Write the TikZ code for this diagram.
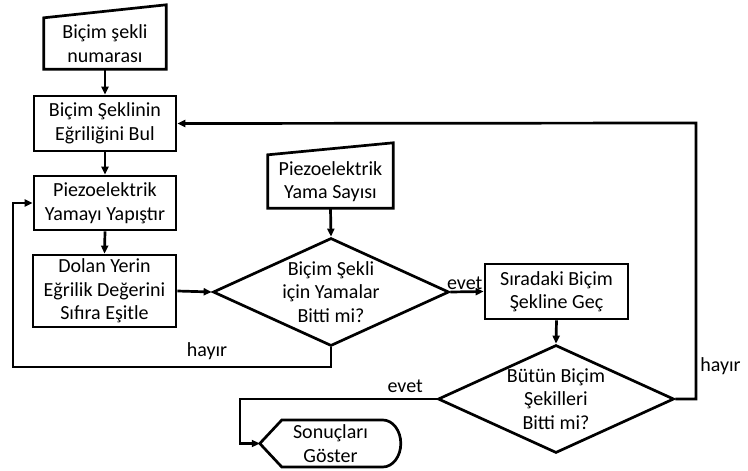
\documentclass[tikz,border=0pt]{standalone}
\usepackage{fontspec}
\setmainfont{Carlito}
\usetikzlibrary{arrows.meta,shapes.geometric,calc}
\begin{document}
\begin{tikzpicture}[x=1pt,y=-1pt,
  every node/.style={font=\fontsize{20}{23.5}\selectfont, align=center},
  ln/.style={line width=2.7pt, line join=miter},
  arr/.style={ln, -{Triangle[length=8pt,width=7pt]}},
  box/.style={ln, draw, rectangle, inner sep=0pt},
  frame/.style={rectangle, inner sep=0pt},
  dec/.style={ln, draw, diamond, inner sep=0pt, minimum width=236pt, minimum height=108pt},
  lbl/.style={font=\fontsize{20}{23}\selectfont, inner sep=1pt}
]
\useasboundingbox (0,0) rectangle (748,471);

% manual inputs
\node[frame, minimum width=122pt, minimum height=51pt] (in1) at (105,43.5) {Biçim şekli\\numarası};
\draw[ln] (in1.south west) -- (in1.north west) -- ([yshift=13pt]in1.north east) -- (in1.south east) -- cycle;
\node[frame, minimum width=125pt, minimum height=53pt] (in2) at (330.5,181.5) {Piezoelektrik\\Yama Sayısı};
\draw[ln] (in2.south west) -- (in2.north west) -- ([yshift=12pt]in2.north east) -- (in2.south east) -- cycle;

% process boxes
\node[box, minimum width=142pt, minimum height=55pt] (b2) at (105,123.5) {Biçim Şeklinin\\Eğriliğini Bul};
\node[box, minimum width=142pt, minimum height=54pt] (b3) at (105,203) {Piezoelektrik\\Yamayı Yapıştır};
\node[box, minimum width=143pt, minimum height=72pt] (b4) at (104.5,291) {Dolan Yerin\\Eğrilik Değerini\\Sıfıra Eşitle};
\node[box, minimum width=143pt, minimum height=55pt] (b7) at (556.5,291.5) {Sıradaki Biçim\\Şekline Geç};

% decisions
\node[dec] (d1) at (331,292) {};
\node at (d1) {Biçim Şekli\\için Yamalar\\Bitti mi?};
\node[dec] (d2) at (556,399) {};
\node at (d2) {Bütün Biçim\\Şekilleri\\Bitti mi?};

% display
\node[frame, minimum width=141pt, minimum height=47pt] (disp) at (330.5,443.5) {Sonuçları\\Göster};
\draw[ln] (disp.west) -- ++(22,-23.5) -- ++(101,0) arc[start angle=90, end angle=-90, x radius=18pt, y radius=23.5pt] -- ++(-101,0) -- cycle;
\coordinate (dispin) at (disp.west);

% connectors
\draw[arr] (in1.south) -- (b2.north);
\draw[arr] (b2.south) -- (b3.north);
\draw[arr] (b3.south) -- (b4.north);
\draw[arr] (b4.east) -- (d1.west);
\draw[arr] (in2.south) -- (d1.north);
\draw[arr] (d1.east) -- node[lbl, pos=1, above left, xshift=1pt] {evet} (b7.west);
\draw[arr] (d1.south) |- (13,367) node[lbl, pos=0.695, above=5pt] {hayır} |- (b3.west);
\draw[arr] (b7.south) -- (d2.north);
\draw[arr] (d2.west) -- node[lbl, pos=0.16, above=4pt] {evet} (240,399) |- (dispin);
\draw[arr] (d2.east) -| (696,123) node[lbl, pos=0.56, right=2pt] {hayır} -- (b2.east);
\end{tikzpicture}
\end{document}
